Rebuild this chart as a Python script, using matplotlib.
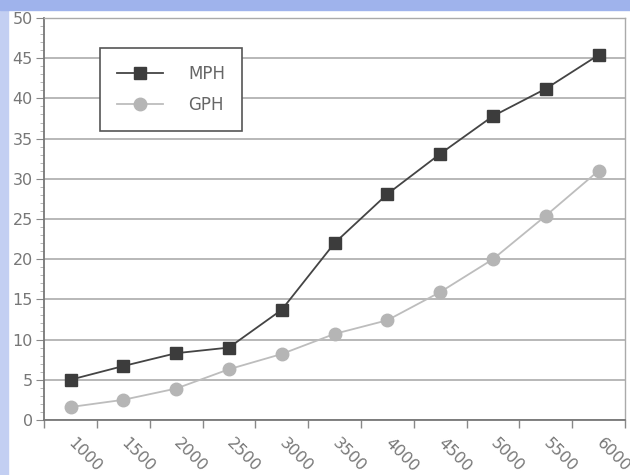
import numpy as np
import matplotlib
matplotlib.use("Agg")
import matplotlib.pyplot as plt
from matplotlib.patches import Rectangle
from matplotlib.ticker import MultipleLocator, FixedLocator

rpm = ["1000", "1500", "2000", "2500", "3000", "3500",
       "4000", "4500", "5000", "5500", "6000"]
mph = [5.0, 6.7, 8.3, 9.0, 13.7, 22.0, 28.1, 33.1, 37.8, 41.2, 45.4]
gph = [1.6, 2.5, 3.9, 6.3, 8.2, 10.7, 12.4, 15.9, 20.0, 25.4, 31.0]

fig = plt.figure(figsize=(6.3, 4.75), dpi=100, facecolor="white")
# bluish border strips of the photographed slide
fig.patches.append(Rectangle((0, 0), 0.013, 1, transform=fig.transFigure,
                             color="#c3cff2", zorder=0))
fig.patches.append(Rectangle((0, 0.978), 1, 0.022, transform=fig.transFigure,
                             color="#9fb3ec", zorder=0))

ax = fig.add_axes([0.070, 0.116, 0.922, 0.846])
x = np.arange(len(rpm))

ax.plot(x, mph, color="#444444", lw=1.3, marker="s", ms=9,
        mfc="#3c3c3c", mec="#3c3c3c", label="MPH", zorder=3)
ax.plot(x, gph, color="#bdbdbd", lw=1.3, marker="o", ms=9,
        mfc="#b5b5b5", mec="#b5b5b5", label="GPH", zorder=3)

ax.set_xlim(-0.5, len(rpm) - 0.5)
ax.set_ylim(0, 50)
ax.yaxis.set_major_locator(MultipleLocator(5))
ax.yaxis.set_minor_locator(MultipleLocator(1))
ax.grid(axis="y", which="major", color="#acacac", lw=1.2)
ax.set_axisbelow(True)

ax.xaxis.set_major_locator(FixedLocator(x))
ax.set_xticklabels(rpm, rotation=-45, ha="left", va="center",
                   rotation_mode="anchor", fontsize=11.5, color="#777777")
ax.tick_params(axis="x", which="major", length=0, pad=15)
ax.xaxis.set_minor_locator(FixedLocator(np.arange(-0.5, len(rpm), 1)))
ax.tick_params(axis="x", which="minor", length=6, color="#888888", width=1)
ax.tick_params(axis="y", which="major", length=6, color="#888888",
               labelsize=11.5, labelcolor="#777777", pad=2)
ax.tick_params(axis="y", which="minor", length=3, color="#aaaaaa")

for s in ["left", "bottom"]:
    ax.spines[s].set_color("#777777")
    ax.spines[s].set_linewidth(1.3)
for s in ["top", "right"]:
    ax.spines[s].set_color("#aaaaaa")
    ax.spines[s].set_linewidth(1.0)

leg = ax.legend(loc="upper left", bbox_to_anchor=(0.096, 0.925), fancybox=False,
                framealpha=1, edgecolor="#555555", fontsize=12,
                borderpad=1.0, borderaxespad=0, labelspacing=0.8,
                handlelength=2.8, handletextpad=1.5, markerscale=1.0)
leg.get_frame().set_linewidth(1.2)
for t in leg.get_texts():
    t.set_color("#666666")

fig.savefig("out.png", dpi=100)
